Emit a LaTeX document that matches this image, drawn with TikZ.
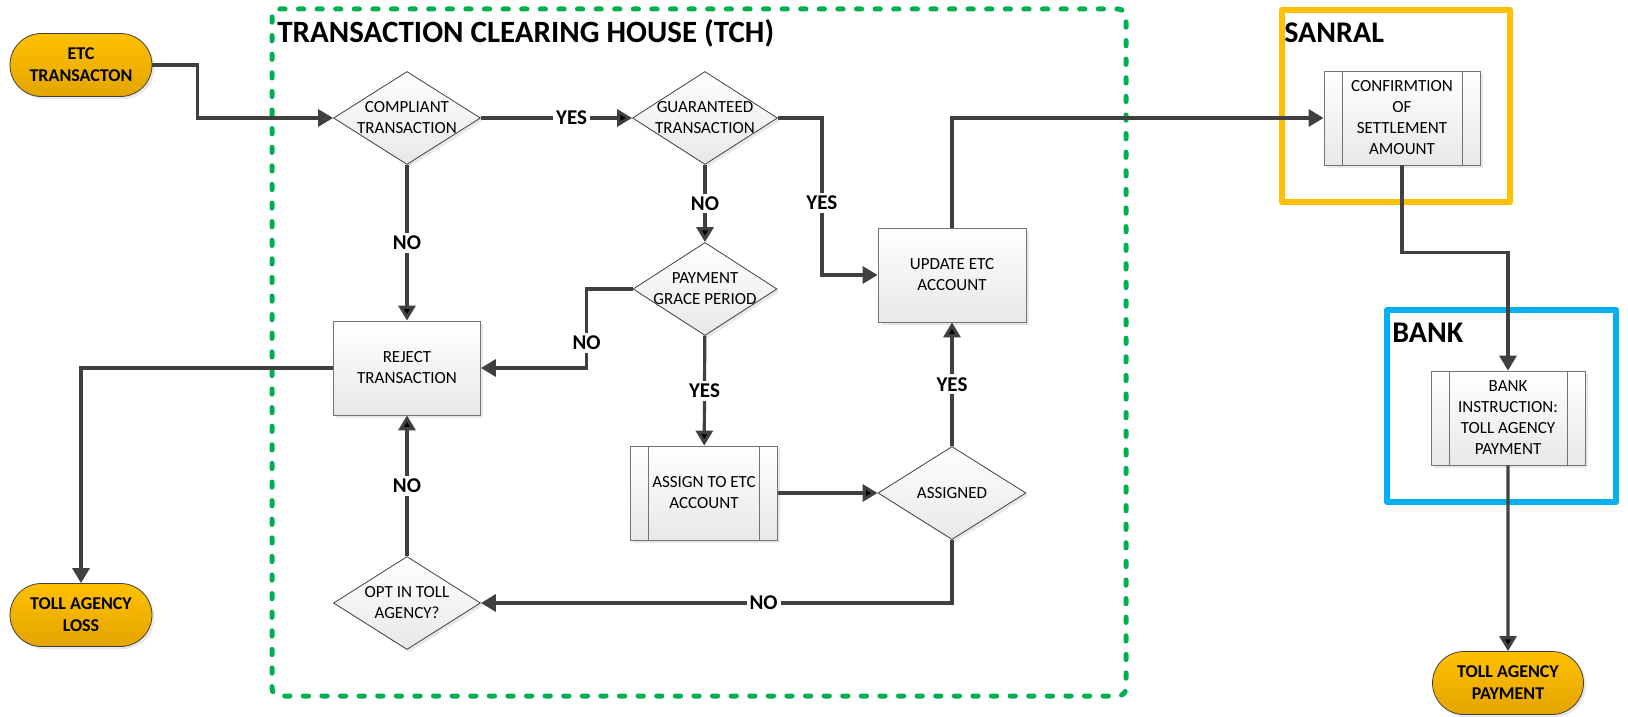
\documentclass[tikz,border=0pt]{standalone}
\usepackage{fontspec}
\setmainfont{Carlito}
\usetikzlibrary{shapes.geometric, shapes.misc, arrows.meta, positioning, shadows}

\definecolor{tchgreen}{HTML}{00B050}
\definecolor{sanralgold}{HTML}{FFC000}
\definecolor{goldlow}{HTML}{E3A500}
\definecolor{bankblue}{HTML}{00B0F0}
\definecolor{linegray}{HTML}{404040}

\begin{document}
\begin{tikzpicture}[x=0.5pt, y=-0.5pt, >={Triangle[width=8.5pt,length=7.5pt]},
    boxfill/.style={top color=white, bottom color=black!9,
        drop shadow={shadow xshift=1.3pt, shadow yshift=-1.3pt, opacity=0.18}},
    box/.style={rectangle, draw=black!55, boxfill, minimum width=73.5pt, minimum height=47pt,
        align=center, inner sep=1pt, font=\fontsize{8.5}{10.5}\selectfont},
    decision/.style={diamond, draw=linegray, boxfill, minimum width=73.5pt, minimum height=46.5pt,
        inner sep=-12pt, align=center, font=\fontsize{8.5}{10.5}\selectfont},
    subproc/.style={box, path picture={
        \draw[black!55] ([xshift=9pt]path picture bounding box.north west) -- ([xshift=9pt]path picture bounding box.south west)
            ([xshift=-9pt]path picture bounding box.north east) -- ([xshift=-9pt]path picture bounding box.south east);}},
    terminal/.style={rounded rectangle, draw=linegray, top color=sanralgold, bottom color=goldlow,
        drop shadow={shadow xshift=1.3pt, shadow yshift=-1.3pt, opacity=0.18},
        minimum width=73pt, minimum height=31.5pt, align=center, inner sep=1pt,
        font=\bfseries\fontsize{9}{11}\selectfont},
    heading/.style={anchor=west, inner sep=0pt, font=\bfseries\fontsize{15}{18}\selectfont},
    lbl/.style={fill=white, inner sep=1.5pt, font=\bfseries\fontsize{10.5}{12}\selectfont},
    conn/.style={->, draw=linegray, line width=1.6pt},
    tch/.style={draw=tchgreen, line width=2.5pt, dash pattern=on 2.6pt off 6.7pt, line cap=round, rounded corners=4pt},
    group/.style={line width=3pt, line join=round}]

    % containers
    \useasboundingbox (0,0) rectangle (1628,717);
    \draw[tch] (272,9) rectangle (1126,696);
    \draw[group, draw=sanralgold] (1282,10) rectangle (1510,202);
    \draw[group, draw=bankblue] (1387,310) rectangle (1616,502);
    \node[heading, font=\bfseries\fontsize{15.5}{18}\selectfont] (TCH) at (277,33) {TRANSACTION CLEARING HOUSE (TCH)};
    \node[heading] (SAN) at (1284,33) {SANRAL};
    \node[heading] (BNK) at (1392,333) {BANK};

    % steps
    \node[terminal] (ETC) at (81,65) {ETC\\TRANSACTON};
    \node[decision] (CT) at (407,118) {COMPLIANT\\TRANSACTION};
    \node[decision, minimum width=72.5pt] (GT) at (705,118) {GUARANTEED\\TRANSACTION};
    \node[decision, minimum width=72pt] (PG) at (705,289) {PAYMENT\\GRACE PERIOD};
    \node[box, minimum width=74pt] (UA) at (952,275) {UPDATE ETC\\ACCOUNT};
    \node[box] (RT) at (407,368) {REJECT\\TRANSACTION};
    \node[subproc] (AE) at (704,493) {ASSIGN TO ETC\\ACCOUNT};
    \node[decision, minimum width=74pt] (AS) at (952,493) {ASSIGNED};
    \node[decision] (OT) at (407,603) {OPT IN TOLL\\AGENCY?};
    \node[terminal] (TL) at (81,615) {TOLL AGENCY\\LOSS};
    \node[subproc, minimum width=78pt] (CS) at (1402,118) {CONFIRMTION\\OF\\SETTLEMENT\\AMOUNT};
    \node[subproc, minimum width=77pt] (BI) at (1508,418) {BANK\\INSTRUCTION:\\TOLL AGENCY\\PAYMENT};
    \node[terminal, minimum width=77.5pt] (TP) at (1508,683) {TOLL AGENCY\\PAYMENT};

    % flow
    \path[conn]
        (CT) edge node[lbl, pos=0.6] {YES} (GT)
             edge node[lbl] {NO} (RT)
        (GT) edge node[lbl] {NO} (PG)
        (PG) edge node[lbl] {YES} (AE)
        (AE) edge (AS)
        (AS) edge node[lbl] {YES} (UA)
        (OT) edge node[lbl] {NO} (RT)
        (BI) edge (TP);
    \draw[conn] (ETC.east) -- ++(45,0) |- (CT.west);
    \draw[conn] (GT.east) -- ++(44,0) |- node[lbl, pos=0.27] {YES} (UA.west);
    \draw[conn] (PG.west) -- ++(-46,0) |- node[lbl, pos=0.34] {NO} (RT.east);
    \draw[conn] (AS.south) |- node[lbl, pos=0.7] {NO} (OT.east);
    \draw[conn] (RT.west) -| (TL.north);
    \draw[conn] (UA.north) |- (CS.west);
    \draw[conn] (CS.south) -- ++(0,87) -| (BI.north);
\end{tikzpicture}
\end{document}
